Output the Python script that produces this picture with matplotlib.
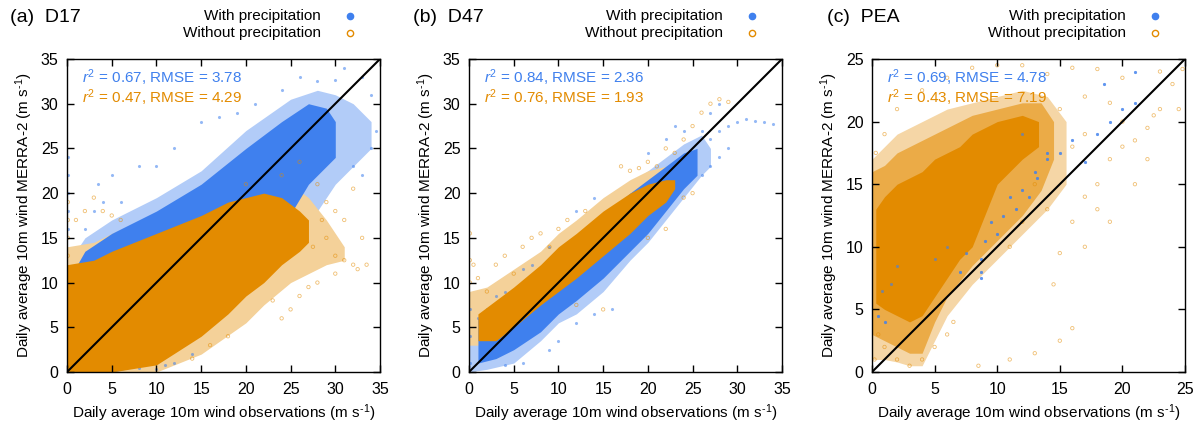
import matplotlib
matplotlib.use("Agg")
import matplotlib.pyplot as plt
import matplotlib.colors as mcolors
import numpy as np

plt.rcParams['font.family'] = ['Liberation Sans', 'DejaVu Sans']
plt.rcParams['mathtext.fontset'] = 'custom'
plt.rcParams['mathtext.it'] = 'Liberation Sans:italic'
plt.rcParams['mathtext.rm'] = 'Liberation Sans'

BLUE = '#3f80ee'
ORANGE = '#e38b00'


def tint(color, a):
    r, g, b = mcolors.to_rgb(color)
    return (1 - a + a * r, 1 - a + a * g, 1 - a + a * b)


panel_labels = ['(a)  D17', '(b)  D47', '(c)  PEA']
axis_max = [35, 35, 25]
stats_with = ['$r^2$ = 0.67, RMSE = 3.78', '$r^2$ = 0.84, RMSE = 2.36', '$r^2$ = 0.69, RMSE = 4.78']
stats_without = ['$r^2$ = 0.47, RMSE = 4.29', '$r^2$ = 0.76, RMSE = 1.93', '$r^2$ = 0.43, RMSE = 7.19']
xlabel_text = r'Daily average 10m wind observations (m s$^{\text{-}1}$)'
ylabel_text = r'Daily average 10m wind MERRA-2 (m s$^{\text{-}1}$)'

# ---------- Panel (a) D17: envelopes of the point clouds (sparse halo / dense core) ----------
a_blue_outer_x = [0, 2, 5, 10, 15, 20, 25, 28, 30, 32, 34]
a_blue_outer_lo = [0, 0, 0, 1, 4, 8, 13, 18, 21, 23, 25]
a_blue_outer_hi = [12, 15, 17, 19.5, 22.5, 27, 30.5, 31.5, 31, 30, 28]
a_blue_inner_x = [0, 2, 5, 10, 15, 20, 24, 27, 29, 30]
a_blue_inner_lo = [0, 0, 0, 1, 5, 10, 16, 21, 23, 24]
a_blue_inner_hi = [10, 13.5, 15.5, 18, 21, 25, 28, 30, 29.5, 28]
a_orange_outer_x = [0, 3, 5, 10, 15, 20, 22, 25, 27, 29, 31]
a_orange_outer_lo = [0, 0, 0, 0, 2, 5.5, 7.5, 10, 11, 12, 12.5]
a_orange_outer_hi = [14, 14.5, 15.5, 17.5, 19, 21, 21.5, 21, 19.5, 17, 14]
a_orange_inner_x = [0, 3, 5, 10, 15, 18, 20, 22, 24, 26, 27]
a_orange_inner_lo = [0, 0, 0, 0.8, 4, 6.5, 8.5, 10, 12, 13.5, 14.5]
a_orange_inner_hi = [12, 12.5, 13.5, 15.5, 17.5, 19, 19.5, 20, 19.5, 18, 17]
# sparse outlying points
a_blue_pts_x = [0.1, 0.1, 0.1, 0.1, 0.1, 2, 3, 3.5, 4, 5, 6, 8, 10, 12, 15, 17, 19, 21, 24,
                26, 28, 30, 31, 33, 34, 34.5, 34, 33, 32, 8, 10, 12, 14, 9, 11]
a_blue_pts_y = [16, 18, 20, 22, 24, 16, 18, 21, 19, 22, 19, 23, 23, 25, 28, 28.5, 29, 30, 31.5,
                33, 32.5, 32.6, 34, 33, 31, 27, 25, 22, 23, 0.5, 0.3, 1, 2, 1.5, 0.8]
a_orange_pts_x = [0.1, 0.1, 0.1, 0.1, 1, 2, 3, 4, 5, 6, 20, 24, 26, 28, 29, 30, 31, 32, 33,
                  33.5, 32, 30, 28, 27, 26, 30, 29, 28.5, 27.5, 31, 25, 24, 23, 18, 16, 14, 32.5]
a_orange_pts_y = [13, 15, 17, 19, 17, 18, 19.5, 18, 17.5, 17, 21, 22, 23.5, 21, 19, 18, 17, 20.5, 15,
                  12, 12, 11, 10, 9.5, 8.5, 13, 15, 17, 14, 12.5, 7, 6, 8, 4, 3, 1.5, 11.5]

# ---------- Panel (b) D47 ----------
b_blue_outer_x = [0, 2, 5, 8, 10, 12, 15, 18, 20, 22, 24, 26, 27]
b_blue_outer_lo = [0, 0.3, 1, 3.5, 5.5, 6.5, 9, 12.5, 14.5, 17, 19.5, 22, 23]
b_blue_outer_hi = [7.5, 8.5, 10.5, 12.5, 14.5, 16, 18.5, 21, 22.5, 24, 25.5, 26.5, 25]
b_blue_inner_x = [1, 3, 5, 8, 10, 12, 15, 18, 20, 22, 24, 25.5]
b_blue_inner_lo = [1, 1.5, 2.5, 4.5, 6.5, 8, 10.5, 13.5, 15.5, 18, 20.5, 22]
b_blue_inner_hi = [6, 7.5, 9, 11.5, 13.5, 15, 17.5, 20, 21.5, 23, 24.5, 25]
b_orange_outer_x = [0, 2, 5, 8, 10, 12, 15, 18, 20, 22, 23.5]
b_orange_outer_lo = [3, 3, 4, 6.5, 8, 9.5, 12, 14.5, 16.5, 18.5, 20]
b_orange_outer_hi = [9, 9.5, 11.5, 13.5, 15.5, 17, 19.5, 21.5, 22.5, 23, 22]
b_orange_inner_x = [1, 3, 5, 8, 10, 12, 15, 18, 20, 22, 23]
b_orange_inner_lo = [3.5, 3.5, 5, 7.5, 9, 10.5, 13, 15.5, 17.5, 19, 20.5]
b_orange_inner_hi = [6.5, 8, 9.5, 12, 14, 15.5, 18, 20, 21, 21.5, 21.5]
b_blue_pts_x = [0.1, 0.1, 0.1, 1, 2, 3, 4, 6, 7, 9, 12, 14, 20, 22, 23, 24, 26, 27, 28, 29, 30,
                31, 32, 33, 34, 27, 28, 23, 24, 26, 27, 28, 29, 16, 14, 12, 9, 6, 4, 10]
b_blue_pts_y = [1, 4, 7, 6, 7, 8.5, 9, 11.5, 12, 14, 18, 19.5, 24.5, 26, 27.5, 27, 27, 26, 27, 27.5, 28,
                28.3, 28.1, 28, 27.7, 29, 30, 20, 21, 22, 23, 24, 25, 7, 6.5, 5.5, 2.5, 1, 0.8, 3.5]
b_orange_pts_x = [0.1, 0.1, 0.1, 0.5, 1, 2, 3, 4, 5, 6, 7, 8, 9, 10, 11, 13, 17, 18, 19, 20, 21,
                  22, 23, 24, 25, 26, 27, 28, 29, 24, 25, 22, 20, 15, 12]
b_orange_pts_y = [10, 12.5, 15.5, 12, 10.5, 9, 12, 13, 11, 14, 15, 15.5, 14, 16, 17, 18, 23, 22.5, 22.8, 23.5, 23,
                  25, 24.5, 26, 27.5, 29, 30, 30.5, 30.2, 19.5, 20, 16, 15, 7, 7.5]

# ---------- Panel (c) PEA (three density levels for the orange cloud) ----------
c_orange_outer_x = [0, 1, 2, 3, 4, 5, 6, 8, 10, 12, 14, 15.5]
c_orange_outer_lo = [1, 1, 0.8, 0.5, 0.5, 2.5, 4.5, 7, 9, 11, 13, 15]
c_orange_outer_hi = [17, 18, 19, 19.5, 20, 20.5, 21, 21.5, 22, 22.5, 22, 20]
c_orange_mid_x = [0, 1, 2, 3, 4, 5, 6, 8, 10, 12, 13.5, 14.5]
c_orange_mid_lo = [3, 2.5, 2, 1.5, 1.5, 4, 6, 8.5, 10.5, 12.5, 14.5, 17]
c_orange_mid_hi = [16, 16.5, 17.5, 18, 18.5, 19, 19.5, 20.5, 21, 21.5, 21.5, 20]
c_orange_inner_x = [0.3, 1, 2, 3, 4, 5, 6, 7, 8, 10, 12, 13.3]
c_orange_inner_lo = [5.5, 5, 4.5, 4, 4.5, 6, 7.5, 9, 10, 15, 17, 18]
c_orange_inner_hi = [13, 14, 15, 15.5, 16, 17, 17.5, 18, 19, 20, 20.5, 20]
c_blue_pts_x = [0.5, 1, 0.8, 1.5, 2, 5, 6, 7, 7.5, 8.7, 8.7, 9, 10, 11, 12, 13, 14, 15, 16, 17,
                18, 19, 20, 21, 12, 14, 18.5, 21, 9.5, 10.5, 13.2, 11.5, 8.7, 12.5]
c_blue_pts_y = [4.5, 4, 6.5, 7, 8.5, 9, 10, 8, 9.5, 7.5, 9, 10.5, 11, 14, 14.5, 16, 17, 17.5, 18.5, 16.8,
                19, 20, 21, 21.5, 19, 17.5, 23, 24, 12, 12.5, 15.5, 13, 8, 14]
c_orange_pts_x = [0.2, 0.5, 1, 2, 3, 4, 5, 6, 6.5, 8.5, 11, 13, 15, 16, 14.5, 15, 16, 17, 18, 19,
                  20, 21, 22, 23, 24, 24.5, 23, 20, 18, 16, 14, 12, 10, 8, 6, 4, 2, 1, 0.3, 17,
                  18, 19, 21, 22, 20, 19, 17, 15, 16, 17, 12, 11, 14, 13, 22.5, 24.8]
c_orange_pts_y = [1, 3, 2, 1, 0.5, 1, 2, 3, 4, 0.5, 1, 1.5, 2.5, 3.5, 7, 9.5, 12, 14, 15, 17,
                  18, 18.5, 19.5, 21, 23, 21, 24, 23.5, 24.2, 24.3, 23.8, 24.5, 24.5, 24.3, 23.5, 22.5, 21, 19, 17.5, 10,
                  13, 12, 15, 17, 20, 21.5, 22, 21, 18, 19, 12, 10, 13, 15, 20.5, 24.2]

panels = [
    dict(blue_outer=(a_blue_outer_x, a_blue_outer_lo, a_blue_outer_hi),
         blue_inner=(a_blue_inner_x, a_blue_inner_lo, a_blue_inner_hi),
         orange_outer=(a_orange_outer_x, a_orange_outer_lo, a_orange_outer_hi),
         orange_mid=None,
         orange_inner=(a_orange_inner_x, a_orange_inner_lo, a_orange_inner_hi),
         blue_pts=(a_blue_pts_x, a_blue_pts_y), orange_pts=(a_orange_pts_x, a_orange_pts_y)),
    dict(blue_outer=(b_blue_outer_x, b_blue_outer_lo, b_blue_outer_hi),
         blue_inner=(b_blue_inner_x, b_blue_inner_lo, b_blue_inner_hi),
         orange_outer=(b_orange_outer_x, b_orange_outer_lo, b_orange_outer_hi),
         orange_mid=None,
         orange_inner=(b_orange_inner_x, b_orange_inner_lo, b_orange_inner_hi),
         blue_pts=(b_blue_pts_x, b_blue_pts_y), orange_pts=(b_orange_pts_x, b_orange_pts_y)),
    dict(blue_outer=None, blue_inner=None,
         orange_outer=(c_orange_outer_x, c_orange_outer_lo, c_orange_outer_hi),
         orange_mid=(c_orange_mid_x, c_orange_mid_lo, c_orange_mid_hi),
         orange_inner=(c_orange_inner_x, c_orange_inner_lo, c_orange_inner_hi),
         blue_pts=(c_blue_pts_x, c_blue_pts_y), orange_pts=(c_orange_pts_x, c_orange_pts_y)),
]

fig = plt.figure(figsize=(12.04, 4.23), dpi=100)
lefts = [67, 469, 872]
title_x = [10, 413, 827]
W, H = 1204, 423

for i, p in enumerate(panels):
    ax = fig.add_axes([lefts[i] / W, (H - 372) / H, 313 / W, 313 / H])
    m = axis_max[i]
    # sparse halos first (opaque tints, so no grey blending)
    if p['blue_outer'] is not None:
        x, lo, hi = p['blue_outer']
        ax.fill_between(x, lo, hi, color=tint(BLUE, 0.4), lw=0)
    x, lo, hi = p['orange_outer']
    ax.fill_between(x, lo, hi, color=tint(ORANGE, 0.4 if i < 2 else 0.35), lw=0)
    if p['orange_mid'] is not None:
        x, lo, hi = p['orange_mid']
        ax.fill_between(x, lo, hi, color=tint(ORANGE, 0.72), lw=0)
    # dense cores: with precipitation (blue), then without (orange)
    if p['blue_inner'] is not None:
        x, lo, hi = p['blue_inner']
        ax.fill_between(x, lo, hi, color=BLUE, lw=0)
    ax.scatter(*p['blue_pts'], s=5, color=BLUE, alpha=0.55, lw=0)
    x, lo, hi = p['orange_inner']
    ax.fill_between(x, lo, hi, color=ORANGE, lw=0)
    ax.scatter(*p['orange_pts'], s=6, facecolors='none', edgecolors=ORANGE, alpha=0.55, lw=0.6)
    if i == 2:
        ax.scatter(*p['blue_pts'], s=5, color=BLUE, alpha=0.6, lw=0)

    ax.plot([0, m], [0, m], color='black', lw=1.5)
    ax.set_xlim(0, m)
    ax.set_ylim(0, m)
    ticks = np.arange(0, m + 1, 5)
    ax.set_xticks(ticks)
    ax.set_yticks(ticks)
    ax.tick_params(direction='in', length=5, width=1, top=True, right=True,
                   labelsize=11.5)
    ax.tick_params(axis='x', pad=7)
    ax.tick_params(axis='y', pad=6)
    for s in ax.spines.values():
        s.set_linewidth(1.0)
    ax.set_xlabel(xlabel_text, fontsize=11, labelpad=4)
    ax.set_ylabel(ylabel_text, fontsize=11, labelpad=4)

    ax.text(0.048, 0.94, stats_with[i], transform=ax.transAxes, color=BLUE,
            fontsize=11, va='center', ha='left')
    ax.text(0.048, 0.876, stats_without[i], transform=ax.transAxes, color=ORANGE,
            fontsize=11, va='center', ha='left')

    # legend-like labels above the axes
    ax.text(0.81, 1.137, 'With precipitation', transform=ax.transAxes, ha='right',
            va='center', fontsize=11, clip_on=False)
    ax.text(0.81, 1.083, 'Without precipitation', transform=ax.transAxes, ha='right',
            va='center', fontsize=11, clip_on=False)
    ax.plot([0.905], [1.137], 'o', transform=ax.transAxes, color=BLUE, ms=4.5, clip_on=False)
    ax.plot([0.905], [1.083], 'o', transform=ax.transAxes, mfc='none', mec=ORANGE,
            ms=4.5, mew=1, clip_on=False)

    fig.text(title_x[i] / W, 1 - 17 / H, panel_labels[i], fontsize=14, ha='left', va='center')

fig.savefig('out.png', dpi=100)
